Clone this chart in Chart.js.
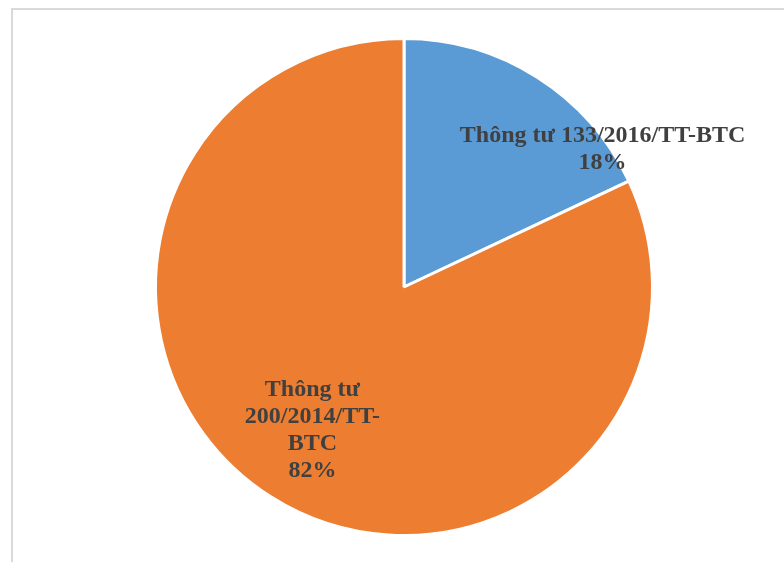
<!DOCTYPE html>
<html>
<head>
<meta charset="utf-8">
<script src="https://cdn.jsdelivr.net/npm/chart.js@4/dist/chart.umd.min.js"></script>
<style>
  html, body { margin: 0; padding: 0; background: #fff; overflow: hidden; }
  #wrap { position: relative; width: 784px; height: 562px; }
  #frame { position: absolute; left: 11px; top: 8px; width: 820px; height: 600px;
           border: 2px solid #d9d9d9; box-sizing: border-box; }
  #myChart { position: absolute; left: 0; top: 0; }
</style>
</head>
<body>
<div id="wrap">
  <div id="frame"></div>
  <canvas id="myChart" width="784" height="562"></canvas>
</div>
<script>
var categories = ['Thông tư 133/2016/TT-BTC', 'Thông tư 200/2014/TT-BTC'];
var shares = [18, 82];
var sliceColors = ['#5b9bd5', '#ed7d31'];

// where each data label sits: angle clockwise from 12 o'clock, distance as part of radius
var labelSpots = [
    {angle: 55.3, dist: 0.972, wrap: 320},
    {angle: 212.5, dist: 0.686, wrap: 150}
];

// break text at spaces, or after a hyphen when a word is still too long
function wrapText(ctx, text, maxWidth){
    var pieces = [];
    text.split(' ').forEach(function(w){
        var parts = w.split(/(?<=-)/);
        parts.forEach(function(p, i){ pieces.push({t: p, sp: i === 0}); });
    });
    var lines = [], cur = '';
    pieces.forEach(function(p){
        var test = cur === '' ? p.t : cur + (p.sp ? ' ' : '') + p.t;
        if (cur !== '' && ctx.measureText(test).width > maxWidth){
            lines.push(cur);
            cur = p.t;
        } else {
            cur = test;
        }
    });
    if (cur !== '') lines.push(cur);
    return lines;
}

var sliceLabels = {
    id: 'sliceLabels',
    afterDatasetsDraw: function(chart){
        var ctx = chart.ctx;
        var meta = chart.getDatasetMeta(0);
        var total = shares.reduce(function(a, b){ return a + b; }, 0);
        ctx.save();
        ctx.font = 'bold 24px "Liberation Serif", "Times New Roman", serif';
        ctx.fillStyle = '#404040';
        ctx.textAlign = 'center';
        ctx.textBaseline = 'middle';
        meta.data.forEach(function(arc, i){
            var spot = labelSpots[i];
            var a = spot.angle * Math.PI / 180;
            var r = arc.outerRadius * spot.dist;
            var cx = arc.x + Math.sin(a) * r;
            var cy = arc.y - Math.cos(a) * r;
            var lines = wrapText(ctx, categories[i], spot.wrap);
            lines.push(Math.round(shares[i] / total * 100) + '%');
            var lh = 27;
            var y0 = cy - (lines.length - 1) * lh / 2;
            lines.forEach(function(l, k){
                ctx.fillText(l, cx, y0 + k * lh);
            });
        });
        ctx.restore();
    }
};

var ctx = document.getElementById('myChart').getContext('2d');
var myPieChart = new Chart(ctx, {
    type: 'pie',
    data: {
        labels: categories,
        datasets: [{
            data: shares,
            backgroundColor: sliceColors,
            borderColor: '#ffffff',
            borderWidth: 3
        }]
    },
    options: {
        responsive: false,
        animation: false,
        radius: 248.5,
        layout: {padding: {left: 24, right: 0, top: 12, bottom: 0}},
        plugins: {
            legend: {display: false},
            tooltip: {enabled: false}
        }
    },
    plugins: [sliceLabels]
});
</script>
</body>
</html>
